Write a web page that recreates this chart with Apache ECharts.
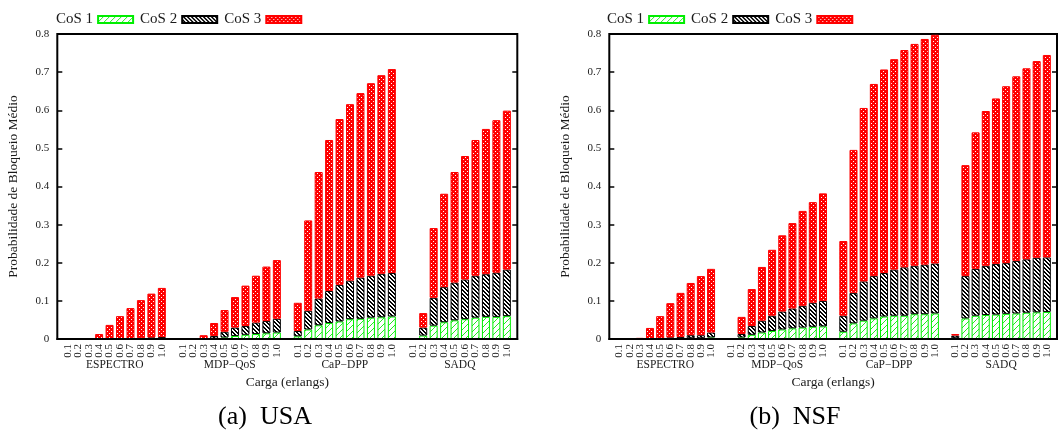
<!DOCTYPE html>
<html>
<head>
<meta charset="utf-8">
<script src="https://cdn.jsdelivr.net/npm/echarts@6/dist/echarts.min.js"></script>
<style>
html,body{margin:0;padding:0;background:#fff;}
#c{width:1060px;height:430px;}
</style>
</head>
<body>
<div id="c"></div>
<script>
// ---------- data ----------
const loadLabels = ['0.1','0.2','0.3','0.4','0.5','0.6','0.7','0.8','0.9','1.0'];
const groupNames = ['ESPECTRO','MDP\u2212QoS','CaP\u2212DPP','SADQ'];
const cosNames = ['CoS 1','CoS 2','CoS 3'];
const yMin = 0, yMax = 0.8, yStep = 0.1;

// USA (values per group: ESPECTRO, MDP-QoS, CaP-DPP, SADQ; loads 0.1..1.0)
const usaCoS1 = [
  0,0,0,0,0,0,0,0.001,0.001,0.002,
  0,0,0,0.001,0.004,0.008,0.011,0.013,0.015,0.017,
  0.007,0.025,0.036,0.042,0.046,0.052,0.053,0.056,0.057,0.059,
  0,0.009,0.035,0.044,0.049,0.052,0.056,0.058,0.058,0.060
];
const usaCoS2 = [
  0,0,0,0,0,0,0,0.001,0.003,0.003,
  0,0,0,0.007,0.015,0.022,0.023,0.030,0.032,0.036,
  0.014,0.049,0.070,0.084,0.096,0.101,0.108,0.110,0.114,0.114,
  0,0.021,0.073,0.092,0.099,0.104,0.110,0.112,0.116,0.122
];
const usaCoS3 = [
  0,0,0,0.013,0.037,0.060,0.081,0.100,0.115,0.129,
  0,0,0.010,0.034,0.057,0.080,0.106,0.123,0.143,0.154,
  0.074,0.237,0.332,0.396,0.435,0.463,0.484,0.505,0.521,0.535,
  0,0.038,0.183,0.245,0.290,0.324,0.356,0.381,0.400,0.417
];

// NSF
const nsfCoS1 = [
  0,0,0,0,0,0.001,0.001,0.002,0.002,0.004,
  0,0.004,0.011,0.017,0.021,0.025,0.028,0.030,0.032,0.033,
  0.019,0.041,0.048,0.054,0.059,0.061,0.061,0.065,0.065,0.067,
  0.002,0.054,0.061,0.063,0.064,0.066,0.067,0.069,0.070,0.071
];
const nsfCoS2 = [
  0,0,0,0,0.001,0.003,0.004,0.008,0.008,0.013,
  0,0.009,0.023,0.031,0.040,0.047,0.052,0.057,0.063,0.067,
  0.042,0.080,0.103,0.111,0.114,0.121,0.127,0.127,0.130,0.131,
  0.007,0.111,0.123,0.129,0.133,0.133,0.138,0.140,0.143,0.143
];
const nsfCoS3 = [
  0,0,0.003,0.029,0.059,0.090,0.116,0.137,0.155,0.167,
  0,0.045,0.097,0.141,0.173,0.200,0.224,0.249,0.264,0.282,
  0.196,0.375,0.455,0.504,0.534,0.552,0.570,0.582,0.592,0.600,
  0.004,0.291,0.358,0.406,0.434,0.464,0.484,0.501,0.516,0.531
];

const captions = ['(a)  USA', '(b)  NSF'];

// ---------- helpers ----------
// slot layout: pad, 10 bars, gap, 10 bars, gap, 10 bars, gap, 10 bars, pad
function toSlots(arr) {
  const out = [null];
  for (let g = 0; g < groupNames.length; g++) {
    for (let i = 0; i < loadLabels.length; i++) {
      const v = arr[g * loadLabels.length + i];
      out.push(v === 0 ? null : v);
    }
    out.push(null);
  }
  return out;
}
const slotLabels = (function () {
  const out = [''];
  for (let g = 0; g < groupNames.length; g++) {
    loadLabels.forEach(l => out.push(l));
    out.push('');
  }
  return out;
})();
// half-slot axis for group names
const groupSlotLabels = (function () {
  const n = (slotLabels.length - 1) * 2 + 1;
  const out = new Array(n).fill('');
  groupNames.forEach((g, gi) => {
    const first = 1 + gi * (loadLabels.length + 1);
    const center = first + (loadLabels.length - 1) / 2;
    out[Math.round(center * 2)] = g;
  });
  return out;
})();

function makePattern(w, h, draw) {
  const c = document.createElement('canvas');
  c.width = w; c.height = h;
  const ctx = c.getContext('2d');
  draw(ctx);
  return { image: c, repeat: 'repeat' };
}
const greenPat = makePattern(6, 6, ctx => {
  ctx.fillStyle = '#fff'; ctx.fillRect(0, 0, 6, 6);
  ctx.fillStyle = '#22ee22';
  for (let i = 0; i < 6; i++) ctx.fillRect(5 - i, i, 1, 1);
});
const blackPat = makePattern(4, 4, ctx => {
  ctx.fillStyle = '#fff'; ctx.fillRect(0, 0, 4, 4);
  ctx.fillStyle = '#000';
  for (let i = 0; i < 4; i++) { ctx.fillRect(i, i, 1, 1); ctx.fillRect((i + 1) % 4, i, 1, 1); }
});
const redPat = makePattern(4, 4, ctx => {
  ctx.fillStyle = '#ff0000'; ctx.fillRect(0, 0, 4, 4);
  ctx.fillStyle = '#ffffff'; ctx.fillRect(1, 1, 1, 1); ctx.fillRect(3, 3, 1, 1);
});
const fills = [greenPat, blackPat, redPat];
const borders = ['#00ee00', '#000000', '#ff0000'];

const FONT = '"Liberation Serif", "Times New Roman", serif';
const TXT = '#1a1a1a';

const gridLefts = [57.3, 609.3];
const legendLefts = [56, 607];
const captionX = [265, 795];
const charts = [[usaCoS1, usaCoS2, usaCoS3], [nsfCoS1, nsfCoS2, nsfCoS3]];

const grid = [], xAxis = [], yAxis = [], series = [], legend = [], graphic = [];
charts.forEach((sets, c) => {
  grid.push({ left: gridLefts[c], top: 34, width: 460, height: 305, show: true,
    borderColor: '#000', borderWidth: 2, backgroundColor: 'transparent' });
  xAxis.push({
    type: 'category', gridIndex: c, data: slotLabels, boundaryGap: false, z: 10,
    axisLine: { show: true, lineStyle: { color: '#000', width: 2 } },
    axisTick: { show: false }, splitLine: { show: false },
    axisLabel: { interval: 0, rotate: 90, margin: 5, fontFamily: FONT, fontSize: 11, color: TXT }
  });
  xAxis.push({
    type: 'category', gridIndex: c, data: groupSlotLabels, boundaryGap: false, position: 'bottom',
    axisLine: { show: false }, axisTick: { show: false }, splitLine: { show: false },
    axisLabel: { interval: 0, margin: 20, fontFamily: FONT, fontSize: 11.5, color: TXT },
    name: 'Carga (erlangs)', nameLocation: 'middle', nameGap: 35,
    nameTextStyle: { fontFamily: FONT, fontSize: 13.5, color: TXT }
  });
  yAxis.push({
    type: 'value', gridIndex: c, min: yMin, max: yMax, interval: yStep, position: 'left',
    axisLine: { show: false }, splitLine: { show: false },
    axisTick: { show: true, inside: true, length: 5, lineStyle: { color: '#000', width: 1.5 } },
    axisLabel: { margin: 8, fontFamily: FONT, fontSize: 11, color: TXT,
      formatter: v => (Math.abs(v) < 1e-9 ? '0' : v.toFixed(1)) },
    name: 'Probabilidade de Bloqueio Médio', nameLocation: 'middle', nameGap: 37, nameRotate: 90,
    nameTextStyle: { fontFamily: FONT, fontSize: 13.5, color: TXT }
  });
  yAxis.push({
    type: 'value', gridIndex: c, min: yMin, max: yMax, interval: yStep, position: 'right',
    axisLine: { show: false }, splitLine: { show: false }, axisLabel: { show: false },
    axisTick: { show: true, inside: true, length: 5, lineStyle: { color: '#000', width: 1.5 } }
  });
  sets.forEach((arr, s) => {
    series.push({
      type: 'bar', name: cosNames[s], xAxisIndex: c * 2, yAxisIndex: c * 2, stack: 'st' + c,
      barWidth: 8, data: toSlots(arr),
      itemStyle: { color: fills[s], borderColor: borders[s], borderWidth: 1 },
      emphasis: { disabled: true }
    });
  });
  legend.push({
    data: cosNames, left: legendLefts[c], top: 12, orient: 'horizontal', align: 'right',
    itemWidth: 35, itemHeight: 7, itemGap: 6, padding: 0, icon: 'rect', selectedMode: false,
    textStyle: { fontFamily: FONT, fontSize: 15, color: TXT }
  });
  graphic.push({
    type: 'text', x: captionX[c], y: 417,
    style: { text: captions[c], font: '26px ' + FONT, fill: '#000', align: 'center', verticalAlign: 'middle' }
  });
});

const chart = echarts.init(document.getElementById('c'), null, { renderer: 'canvas' });
chart.setOption({
  animation: false,
  backgroundColor: '#fff',
  grid, xAxis, yAxis, series, legend, graphic
});
</script>
</body>
</html>
